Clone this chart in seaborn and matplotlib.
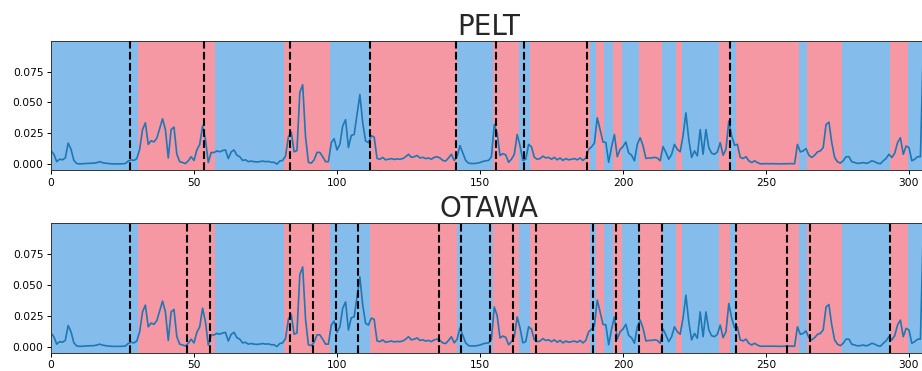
import numpy as np
import matplotlib
matplotlib.use("Agg")
import matplotlib.pyplot as plt
import seaborn as sns

# signal samples (index 0..305)
signal = [
    0.0110, 0.0080, 0.0020, 0.0040, 0.0035, 0.0050, 0.0170, 0.0120, 0.0030, 0.0005,
    0.0002, 0.0003, 0.0005, 0.0006, 0.0007, 0.0008, 0.0012, 0.0020, 0.0012, 0.0008,
    0.0005, 0.0003, 0.0002, 0.0002, 0.0002, 0.0003, 0.0005, 0.0025, 0.0035, 0.0030,
    0.0045, 0.0120, 0.0280, 0.0335, 0.0160, 0.0190, 0.0180, 0.0210, 0.0290, 0.0367,
    0.0280, 0.0050, 0.0280, 0.0300, 0.0080, 0.0020, 0.0013, 0.0005, 0.0027, 0.0060,
    0.0030, 0.0115, 0.0160, 0.0310, 0.0200, 0.0013, 0.0094, 0.0094, 0.0107, 0.0100,
    0.0110, 0.0115, 0.0045, 0.0099, 0.0115, 0.0072, 0.0060, 0.0030, 0.0035, 0.0020,
    0.0025, 0.0020, 0.0018, 0.0020, 0.0025, 0.0020, 0.0022, 0.0015, 0.0015, 0.0000,
    0.0025, 0.0030, 0.0065, 0.0220, 0.0260, 0.0100, 0.0110, 0.0580, 0.0643, 0.0220,
    0.0015, 0.0008, 0.0035, 0.0095, 0.0095, 0.0060, 0.0020, 0.0020, 0.0174, 0.0206,
    0.0115, 0.0160, 0.0310, 0.0360, 0.0134, 0.0233, 0.0240, 0.0400, 0.0563, 0.0335,
    0.0188, 0.0174, 0.0230, 0.0220, 0.0046, 0.0040, 0.0054, 0.0035, 0.0040, 0.0045,
    0.0038, 0.0042, 0.0040, 0.0045, 0.0060, 0.0080, 0.0055, 0.0060, 0.0070, 0.0050,
    0.0055, 0.0045, 0.0050, 0.0040, 0.0055, 0.0060, 0.0050, 0.0030, 0.0025, 0.0050,
    0.0080, 0.0030, 0.0060, 0.0150, 0.0090, 0.0030, 0.0008, 0.0005, 0.0005, 0.0008,
    0.0013, 0.0022, 0.0027, 0.0030, 0.0060, 0.0320, 0.0250, 0.0070, 0.0085, 0.0075,
    0.0015, 0.0040, 0.0080, 0.0240, 0.0150, 0.0030, 0.0040, 0.0160, 0.0140, 0.0055,
    0.0040, 0.0045, 0.0065, 0.0050, 0.0055, 0.0040, 0.0055, 0.0035, 0.0050, 0.0030,
    0.0045, 0.0035, 0.0040, 0.0045, 0.0035, 0.0050, 0.0030, 0.0050, 0.0120, 0.0140,
    0.0170, 0.0375, 0.0280, 0.0180, 0.0175, 0.0015, 0.0140, 0.0240, 0.0060, 0.0120,
    0.0142, 0.0180, 0.0090, 0.0072, 0.0027, 0.0160, 0.0214, 0.0150, 0.0046, 0.0050,
    0.0050, 0.0055, 0.0050, 0.0027, 0.0142, 0.0094, 0.0040, 0.0080, 0.0160, 0.0120,
    0.0100, 0.0230, 0.0415, 0.0200, 0.0054, 0.0107, 0.0067, 0.0280, 0.0080, 0.0280,
    0.0134, 0.0088, 0.0080, 0.0099, 0.0174, 0.0072, 0.0120, 0.0348, 0.0230, 0.0153,
    0.0160, 0.0054, 0.0046, 0.0060, 0.0027, 0.0013, 0.0027, 0.0013, 0.0003, 0.0003,
    0.0004, 0.0003, 0.0004, 0.0003, 0.0003, 0.0002, 0.0003, 0.0003, 0.0004, 0.0004,
    0.0003, 0.0160, 0.0099, 0.0107, 0.0126, 0.0072, 0.0054, 0.0072, 0.0099, 0.0107,
    0.0134, 0.0320, 0.0340, 0.0174, 0.0054, 0.0019, 0.0008, 0.0027, 0.0060, 0.0060,
    0.0019, 0.0013, 0.0006, 0.0008, 0.0013, 0.0006, 0.0013, 0.0027, 0.0020, 0.0008,
    0.0003, 0.0027, 0.0046, 0.0080, 0.0054, 0.0088, 0.0174, 0.0214, 0.0080, 0.0147,
    0.0134, 0.0027, 0.0040, 0.0060, 0.0060, 0.0950,
]

# boundaries of the reference segmentation (alternating shaded regimes)
true_bkps = [30.5, 57.5, 81.5, 97.5, 111.5, 142.0, 154.5, 163.5, 167.5, 188.5,
             190.5, 193.5, 196.5, 199.5, 205.5, 213.5, 218.5, 220.5, 233.5, 237.5,
             239.5, 261.5, 264.5, 276.5, 293.5, 299.5, 305.0]

# detected change points per method
pelt_bkps = [27.5, 53.5, 83.5, 111.5, 141.5, 155.5, 165.5, 187.5, 237.5]
otawa_bkps = [27.5, 47.5, 55.5, 83.5, 91.5, 99.5, 107.5, 135.5, 143.5, 153.5,
              161.5, 169.5, 189.5, 197.5, 205.5, 213.5, 239.5, 257.5, 265.5, 293.5]

methods = ["PELT", "OTAWA"]
detected = [pelt_bkps, otawa_bkps]

regime_colors = ["#84bdec", "#f598a4"]

sns.set_style("ticks")
plt.rcParams["font.family"] = ["DejaVu Sans"]

fig = plt.figure(figsize=(9.22, 3.71), dpi=100)
left, right = 51 / 922, 927 / 922
positions = [(left, 1 - 170 / 371, right - left, 129 / 371),
             (left, 1 - 352.5 / 371, right - left, 129.5 / 371)]

x = np.arange(len(signal))
y = np.array(signal)

for pos, name, bkps in zip(positions, methods, detected):
    ax = fig.add_axes(pos)
    start = 0.0
    for i, end in enumerate(true_bkps):
        ax.axvspan(start, end, facecolor=regime_colors[i % 2], edgecolor="none",
                   alpha=1.0, zorder=0)
        start = end
    sns.lineplot(x=x, y=y, ax=ax, color="#1f77b4", linewidth=1.2, zorder=2)
    for b in bkps:
        ax.axvline(b, color="k", linewidth=1.5, linestyle="--", zorder=3)
    ax.set_xlim(0, 306.3)
    ax.margins(y=0.05)
    ax.set_yticks([0.0, 0.025, 0.05, 0.075])
    ax.set_yticklabels(["0.000", "0.025", "0.050", "0.075"])
    ax.set_xticks([0, 50, 100, 150, 200, 250, 300])
    ax.tick_params(labelsize=7.7, colors="black", length=2.8, width=0.7, pad=2.7)
    for sp in ax.spines.values():
        sp.set_color("#333333")
        sp.set_linewidth(0.7)
    ax.set_title(name, fontsize=20, pad=3)

fig.savefig("out.png", dpi=100)
